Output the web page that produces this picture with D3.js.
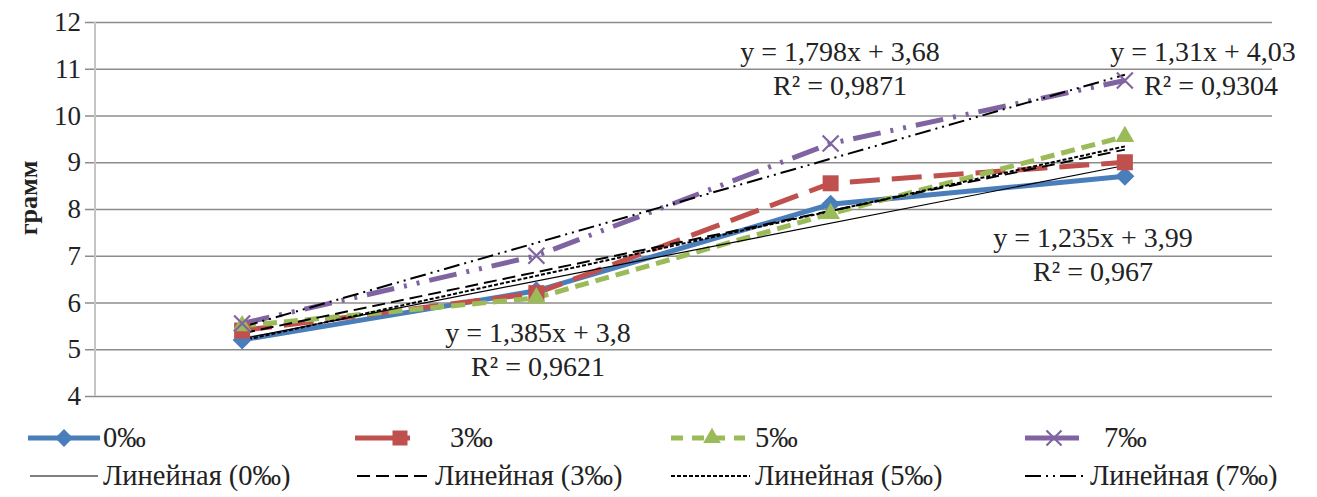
<!DOCTYPE html>
<html>
<head>
<meta charset="utf-8">
<script src="https://cdn.jsdelivr.net/npm/d3@7"></script>
<style>
  body { margin: 0; background: #fff; }
  text { font-family: "Liberation Serif", "Times New Roman", serif; fill: #222; }
</style>
</head>
<body>
<div id="chart"></div>
<script>
// data
var categories = [1, 2, 3, 4];
var seriesNames = ["0‰", "3‰", "5‰", "7‰"];
var values0 = [5.2, 6.25, 8.1, 8.7];
var values3 = [5.4, 6.2, 8.55, 9.0];
var values5 = [5.5, 6.1, 7.9, 9.55];
var values7 = [5.55, 7.0, 9.4, 10.75];
var slopes = [1.235, 1.31, 1.385, 1.798];
var intercepts = [3.99, 4.03, 3.8, 3.68];
var rSquared = ["0,967", "0,9304", "0,9621", "0,9871"];
var yTicks = [4, 5, 6, 7, 8, 9, 10, 11, 12];

var colors = ["#4a7ebb", "#c0504d", "#9bbb59", "#8064a2"];
var lineDash = ["none", "30,12", "14,7", "28,10,3,10,3,10"];
var trendDash = ["none", "13,6", "4,2", "16,5,2,5,2,5"];
var trendWidth = [1.2, 2, 2, 2];

var margin = { top: 22, right: 45, bottom: 101, left: 95 },
    width = 1317 - margin.left - margin.right,
    height = 497 - margin.top - margin.bottom;

var svg = d3.select("#chart").append("svg")
    .attr("width", 1317)
    .attr("height", 497);

var g = svg.append("g")
    .attr("transform", "translate(" + margin.left + "," + margin.top + ")");

var x = d3.scaleBand()
    .domain(categories)
    .range([0, width]);

var y = d3.scaleLinear()
    .domain([4, 12])
    .range([height, 0]);

function cx(c) { return x(c) + x.bandwidth() / 2; }

// gridlines with tick labels
var yAxis = d3.axisLeft(y)
    .tickValues(yTicks)
    .tickSize(-width)
    .tickPadding(14);

var ax = g.append("g").call(yAxis);
ax.select(".domain").remove();
ax.selectAll(".tick line")
    .attr("x1", -10)
    .attr("stroke", "#8c8c8c")
    .attr("stroke-width", 1.3);
ax.selectAll(".tick text")
    .style("font-family", "Liberation Serif")
    .style("font-size", "27px")
    .attr("fill", "#333");

g.append("line")
    .attr("x1", 0).attr("x2", 0)
    .attr("y1", 0).attr("y2", height)
    .attr("stroke", "#c4c4c4")
    .attr("stroke-width", 2);

svg.append("text")
    .attr("transform", "translate(37,198) rotate(-90)")
    .attr("text-anchor", "middle")
    .style("font-size", "26px")
    .style("font-weight", "bold")
    .attr("fill", "#111")
    .text("грамм");

var allValues = [values0, values3, values5, values7];

var line = d3.line()
    .x(function (d, i) { return cx(categories[i]); })
    .y(function (d) { return y(d); });

// marker shapes
function drawMarker(sel, k, px, py, s) {
    if (k === 0) {
        sel.append("path")
            .attr("d", d3.symbol(d3.symbolDiamond2, s * s * 0.9)())
            .attr("transform", "translate(" + px + "," + py + ")")
            .attr("fill", colors[k]);
    } else if (k === 1) {
        sel.append("rect")
            .attr("x", px - s / 2).attr("y", py - s / 2)
            .attr("width", s).attr("height", s)
            .attr("fill", colors[k]);
    } else if (k === 2) {
        sel.append("path")
            .attr("d", d3.symbol(d3.symbolTriangle, s * s * 0.6)())
            .attr("transform", "translate(" + px + "," + py + ")")
            .attr("fill", colors[k]);
    } else {
        var h = s / 2;
        sel.append("path")
            .attr("d", "M" + (px - h) + "," + (py - h) + "L" + (px + h) + "," + (py + h) +
                "M" + (px - h) + "," + (py + h) + "L" + (px + h) + "," + (py - h))
            .attr("stroke", colors[k])
            .attr("stroke-width", 2.2)
            .attr("fill", "none");
    }
}

// series lines
allValues.forEach(function (vals, k) {
    g.append("path")
        .datum(vals)
        .attr("d", line)
        .attr("fill", "none")
        .attr("stroke", colors[k])
        .attr("stroke-width", 5)
        .attr("stroke-dasharray", lineDash[k]);
});

// trend lines (from the fitted equations)
slopes.forEach(function (m, k) {
    var first = categories[0], last = categories[categories.length - 1];
    g.append("line")
        .attr("x1", cx(first)).attr("y1", y(m * first + intercepts[k]))
        .attr("x2", cx(last)).attr("y2", y(m * last + intercepts[k]))
        .attr("stroke", "#000")
        .attr("stroke-width", trendWidth[k])
        .attr("stroke-dasharray", trendDash[k]);
});

// markers
allValues.forEach(function (vals, k) {
    var mg = g.append("g");
    vals.forEach(function (v, i) {
        drawMarker(mg, k, cx(categories[i]), y(v), 16);
    });
});

// equation labels
var eqPos = [
    { x: 1093, y: 247 },
    { x: 1203, y: 61 },
    { x: 538, y: 342 },
    { x: 840, y: 61 }
];
slopes.forEach(function (m, k) {
    var t = svg.append("text")
        .attr("text-anchor", "middle")
        .style("font-size", "28px");
    t.append("tspan")
        .attr("x", eqPos[k].x).attr("y", eqPos[k].y)
        .text("y = " + String(m).replace(".", ",") + "x + " + String(intercepts[k]).replace(".", ","));
    t.append("tspan")
        .attr("x", eqPos[k].x + (k === 1 ? 8 : 0)).attr("y", eqPos[k].y + 34)
        .text("R² = " + rSquared[k]);
});

// legend
var legendRow1 = [
    { x1: 28, x2: 100, mx: 64, tx: 103 },
    { x1: 355, x2: 410, mx: 400, tx: 450 },
    { x1: 671, x2: 745, mx: 712, tx: 755 },
    { x1: 1025, x2: 1079, mx: 1054, tx: 1104 }
];
var legendRow2 = [
    { x1: 30, x2: 98, tx: 103 },
    { x1: 357, x2: 432, tx: 435 },
    { x1: 671, x2: 750, tx: 755 },
    { x1: 1025, x2: 1086, tx: 1090 }
];
var lg = svg.append("g");
seriesNames.forEach(function (name, k) {
    var r1 = legendRow1[k], r2 = legendRow2[k];
    lg.append("line")
        .attr("x1", r1.x1).attr("x2", r1.x2)
        .attr("y1", 438).attr("y2", 438)
        .attr("stroke", colors[k])
        .attr("stroke-width", 5)
        .attr("stroke-dasharray", k === 2 ? "12,9" : "none");
    drawMarker(lg, k, r1.mx, 438, 15);
    lg.append("text")
        .attr("x", r1.tx).attr("y", 447)
        .style("font-size", "28.5px")
        .text(name);

    lg.append("line")
        .attr("x1", r2.x1).attr("x2", r2.x2)
        .attr("y1", 476).attr("y2", 476)
        .attr("stroke", "#000")
        .attr("stroke-width", k === 0 ? 1.2 : 2)
        .attr("stroke-dasharray", trendDash[k]);
    lg.append("text")
        .attr("x", r2.tx).attr("y", 485)
        .style("font-size", "28.5px")
        .text("Линейная (" + name + ")");
});
</script>
</body>
</html>
